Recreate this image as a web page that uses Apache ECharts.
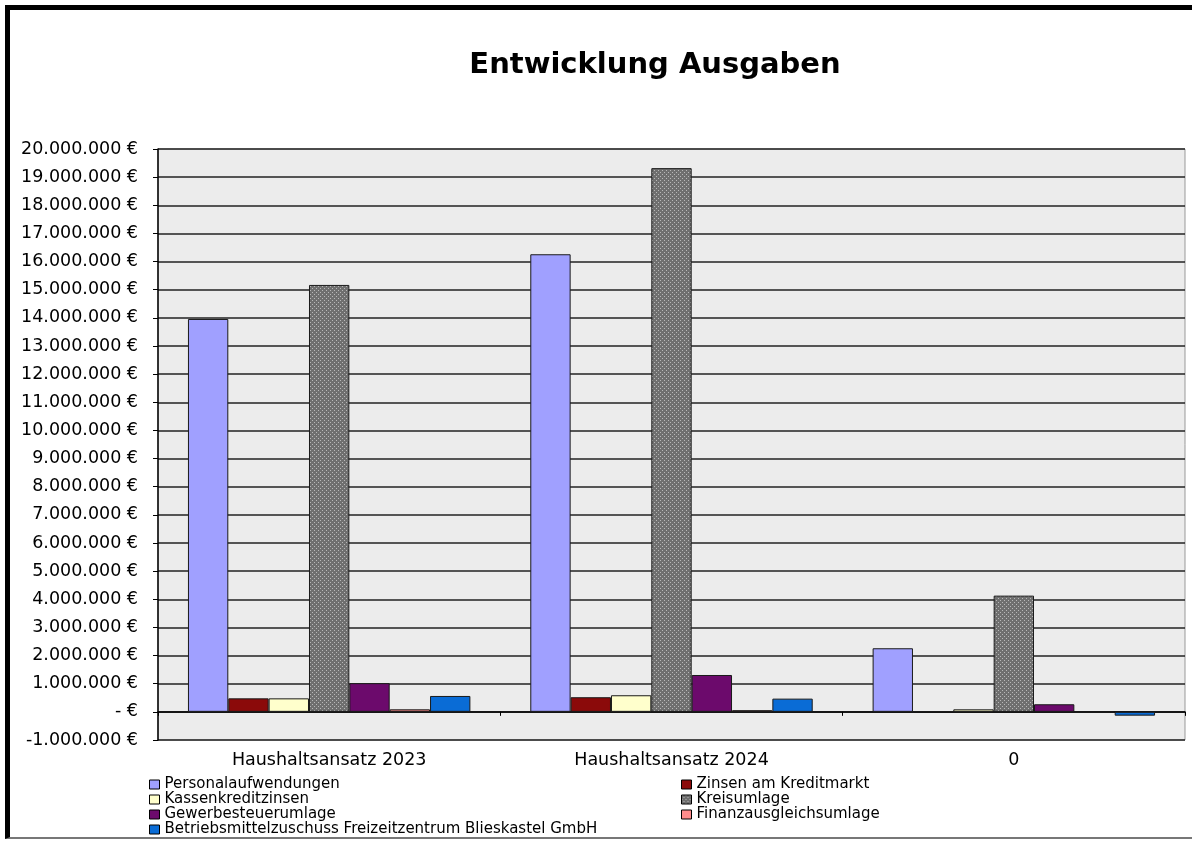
<!DOCTYPE html>
<html lang="de">

<head>
    <meta charset="UTF-8">
    <title>Entwicklung Ausgaben</title>
    <script src="https://cdn.jsdelivr.net/npm/echarts@6/dist/echarts.min.js"></script>
    <style>
        html, body { margin: 0; padding: 0; background: #fff; }
        #wrap { position: relative; width: 1192px; height: 843px; overflow: hidden; }
        #rahmen {
            position: absolute; left: 5px; top: 5px; width: 1187px; height: 834px;
            border-top: 5px solid #000; border-left: 5px solid #000; border-bottom: 2px solid #777;
            box-sizing: border-box; pointer-events: none;
        }
        #chart { position: absolute; left: 0; top: 0; width: 1192px; height: 843px; }
    </style>
</head>

<body>
    <div id="wrap">
        <div id="chart"></div>
        <div id="rahmen"></div>
    </div>

    <script type="text/javascript">
        // Daten
        var kategorien = ['Haushaltsansatz 2023', 'Haushaltsansatz 2024', '0'];
        var personalaufwendungen = [13960000, 16260000, 2260000];
        var zinsenKreditmarkt = [480000, 520000, 20000];
        var kassenkreditzinsen = [480000, 590000, 90000];
        var kreisumlage = [15170000, 19320000, 4130000];
        var gewerbesteuerumlage = [1020000, 1310000, 270000];
        var finanzausgleichsumlage = [90000, 60000, -20000];
        var betriebsmittelzuschuss = [565000, 470000, -135000];

        var legendeLinks = ['Personalaufwendungen', 'Kassenkreditzinsen', 'Gewerbesteuerumlage',
            'Betriebsmittelzuschuss Freizeitzentrum Blieskastel GmbH'];
        var legendeRechts = ['Zinsen am Kreditmarkt', 'Kreisumlage', 'Finanzausgleichsumlage'];

        var schrift = 'DejaVu Sans';

        // Punktmuster fuer Kreisumlage
        var muster = document.createElement('canvas');
        muster.width = 4;
        muster.height = 4;
        var ctx = muster.getContext('2d');
        ctx.fillStyle = '#6f6f6f';
        ctx.fillRect(0, 0, 4, 4);
        ctx.fillStyle = '#b8b8b8';
        ctx.fillRect(0, 0, 1, 1);
        ctx.fillRect(2, 2, 1, 1);

        function euro(v) {
            if (v === 0) return '- €';
            var s = String(Math.abs(v)).replace(/\B(?=(\d{3})+(?!\d))/g, '.');
            return (v < 0 ? '-' : '') + s + ' €';
        }

        function balken(name, werte, farbe) {
            return {
                name: name,
                type: 'bar',
                data: werte,
                barGap: '0%',
                barCategoryGap: '17.5%',
                itemStyle: { color: farbe, borderColor: '#1a1a1a', borderWidth: 1 }
            };
        }

        var myChart = echarts.init(document.getElementById('chart'));

        var legendeBasis = {
            orient: 'vertical',
            itemWidth: 10,
            itemHeight: 9,
            itemGap: 0,
            icon: 'rect',
            selectedMode: false,
            itemStyle: { borderColor: '#000', borderWidth: 1 },
            textStyle: { fontFamily: schrift, fontSize: 15, color: '#000' }
        };

        var option = {
            animation: false,
            title: {
                text: 'Entwicklung Ausgaben',
                left: 650,
                top: 46,
                textAlign: 'center',
                textStyle: { fontFamily: schrift, fontWeight: 'bold', fontSize: 29, color: '#000' }
            },
            legend: [
                Object.assign({}, legendeBasis, { data: legendeLinks, left: 144, top: 772 }),
                Object.assign({}, legendeBasis, { data: legendeRechts, left: 676, top: 772 })
            ],
            grid: {
                left: 158,
                right: 7,
                top: 149,
                bottom: 103,
                show: true,
                backgroundColor: '#ececec',
                borderColor: '#999',
                borderWidth: 1
            },
            xAxis: {
                type: 'category',
                data: kategorien,
                axisLine: { onZero: true, lineStyle: { color: '#000', width: 1.5 } },
                axisTick: { show: true, length: 4, lineStyle: { color: '#000' } },
                axisLabel: { margin: 11, fontFamily: schrift, fontSize: 17.5, color: '#000' },
                splitLine: { show: false }
            },
            yAxis: {
                type: 'value',
                min: -1000000,
                max: 20000000,
                interval: 1000000,
                axisLine: { show: true, lineStyle: { color: '#000', width: 1.5 } },
                axisTick: { show: true, length: 5, lineStyle: { color: '#000' } },
                axisLabel: { margin: 20, fontFamily: schrift, fontSize: 17.5, color: '#000', formatter: euro },
                splitLine: { show: true, lineStyle: { color: '#222', width: 1.5 } }
            },
            series: [
                balken('Personalaufwendungen', personalaufwendungen, '#a0a0ff'),
                balken('Zinsen am Kreditmarkt', zinsenKreditmarkt, '#8b0a0a'),
                balken('Kassenkreditzinsen', kassenkreditzinsen, '#ffffcc'),
                balken('Kreisumlage', kreisumlage, { image: muster, repeat: 'repeat' }),
                balken('Gewerbesteuerumlage', gewerbesteuerumlage, '#6c0a6c'),
                balken('Finanzausgleichsumlage', finanzausgleichsumlage, '#ff8c8c'),
                balken('Betriebsmittelzuschuss Freizeitzentrum Blieskastel GmbH', betriebsmittelzuschuss, '#0a6cd6')
            ]
        };
        myChart.setOption(option);
    </script>
</body>

</html>
